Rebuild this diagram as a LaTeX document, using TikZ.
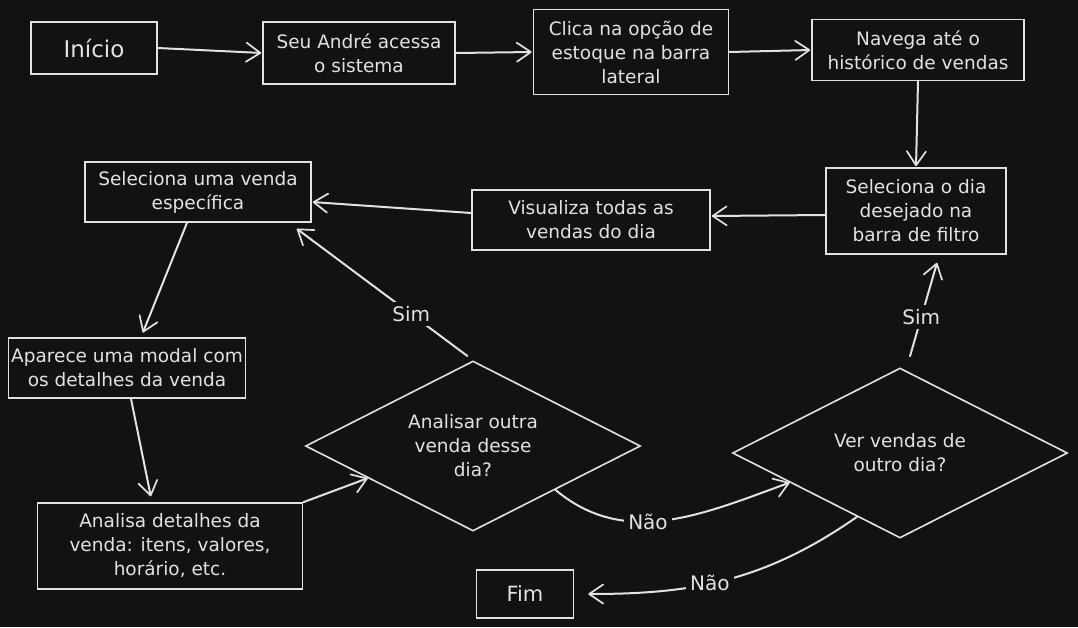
\documentclass[tikz,border=0pt]{standalone}
\usepackage{fontspec}
\setmainfont{DejaVu Sans}
\usetikzlibrary{positioning, arrows.meta, shapes.geometric, calc}
\definecolor{bgdark}{HTML}{121212}
\definecolor{chalk}{HTML}{E2E2E2}

\begin{document}
\begin{tikzpicture}[x=1pt, y=-1pt,
		font=\fontsize{18.5}{24}\selectfont,
		stepbox/.style={rectangle, draw=chalk, line width=1.6pt, fill=bgdark, text=chalk, align=center, inner sep=2pt},
		choice/.style={diamond, draw=chalk, line width=1.6pt, text=chalk, align=center, shape aspect=2, minimum width=335pt, minimum height=170pt, inner sep=0pt},
		flow/.style={-{Straight Barb[length=14pt, width=19pt, line width=1.7pt, round]}, draw=chalk, line width=2pt, line cap=round},
		tag/.style={fill=bgdark, text=chalk, inner sep=4pt, font=\fontsize{20}{24}\selectfont}]
		% background and frame
		\path[use as bounding box, fill=bgdark] (0,0) rectangle (1078,627);
		% top row
		\node[stepbox, minimum width=126pt, minimum height=52pt, font=\fontsize{23}{24}\selectfont] (ini) at (94,48) {Início};
		\node[stepbox, minimum width=192pt, minimum height=62pt] (sa) at (359,53) {Seu André acessa\\o sistema};
		\node[stepbox, minimum width=195pt, minimum height=85pt] (cl) at (631,52) {Clica na opção de\\estoque na barra\\lateral};
		\node[stepbox, minimum width=212pt, minimum height=61pt] (nv) at (918,50) {Navega até o\\histórico de vendas};
		% middle row
		\node[stepbox, minimum width=180pt, minimum height=86pt] (sd) at (916,211) {Seleciona o dia\\desejado na\\barra de filtro};
		\node[stepbox, minimum width=238pt, minimum height=60pt] (vi) at (591,220) {Visualiza todas as\\vendas do dia};
		\node[stepbox, minimum width=226pt, minimum height=60pt] (sv) at (198,192) {Seleciona uma venda\\específica};
		% left column
		\node[stepbox, minimum width=237pt, minimum height=60pt] (ap) at (127,368) {Aparece uma modal com\\os detalhes da venda};
		\node[stepbox, minimum width=265pt, minimum height=86pt] (an) at (170,546) {Analisa detalhes da\\venda: itens, valores,\\horário, etc.};
		% decisions
		\node[choice] (d1) at (473,446) {Analisar outra\\venda desse\\dia?};
		\node[choice] (d2) at (900,453) {Ver vendas de\\outro dia?};
		\node[stepbox, minimum width=97pt, minimum height=48pt, font=\fontsize{21}{24}\selectfont] (fim) at (525,594) {Fim};
		% forward arrows
		\draw[flow, shorten >=1pt] (ini.east) -- (sa.west);
		\draw[flow, shorten >=1pt] (sa.east) -- (cl.west);
		\draw[flow, shorten >=1pt] (cl.east) -- (nv.west);
		\draw[flow, shorten >=1pt] (nv.south) -- (sd.north);
		\draw[flow, shorten >=1pt] ([yshift=-4pt]sd.west) -- ([yshift=4pt]vi.east);
		\draw[flow, shorten >=1pt] ([yshift=7pt]vi.west) -- ([yshift=-10pt]sv.east);
		\draw[flow, shorten >=5pt] ([xshift=-11pt]sv.south) -- ([xshift=14pt]ap.north);
		\draw[flow, shorten >=6pt] ([xshift=4pt]ap.south) -- ([xshift=-18pt]an.north);
		\draw[flow] (an.north east) -- (d1.197);
		% answers
		\draw[flow, shorten <=7pt] (d1.north) -- node[tag, pos=0.35] {Sim} ($(sv.south east)+(-15,6)$);
		\draw[flow] (d1.-28) to[out=-40, in=200] node[tag, pos=0.42] {Não} (d2.195);
		\draw[flow] ($(d2.north)+(10,-11)$) -- node[tag, pos=0.42] {Sim} ($(sd.south)+(21,8)$);
		\draw[flow, shorten >=14pt] (d2.236) to[out=215, in=0] node[tag, pos=0.55] {Não} (fim.east);
\end{tikzpicture}
\end{document}
